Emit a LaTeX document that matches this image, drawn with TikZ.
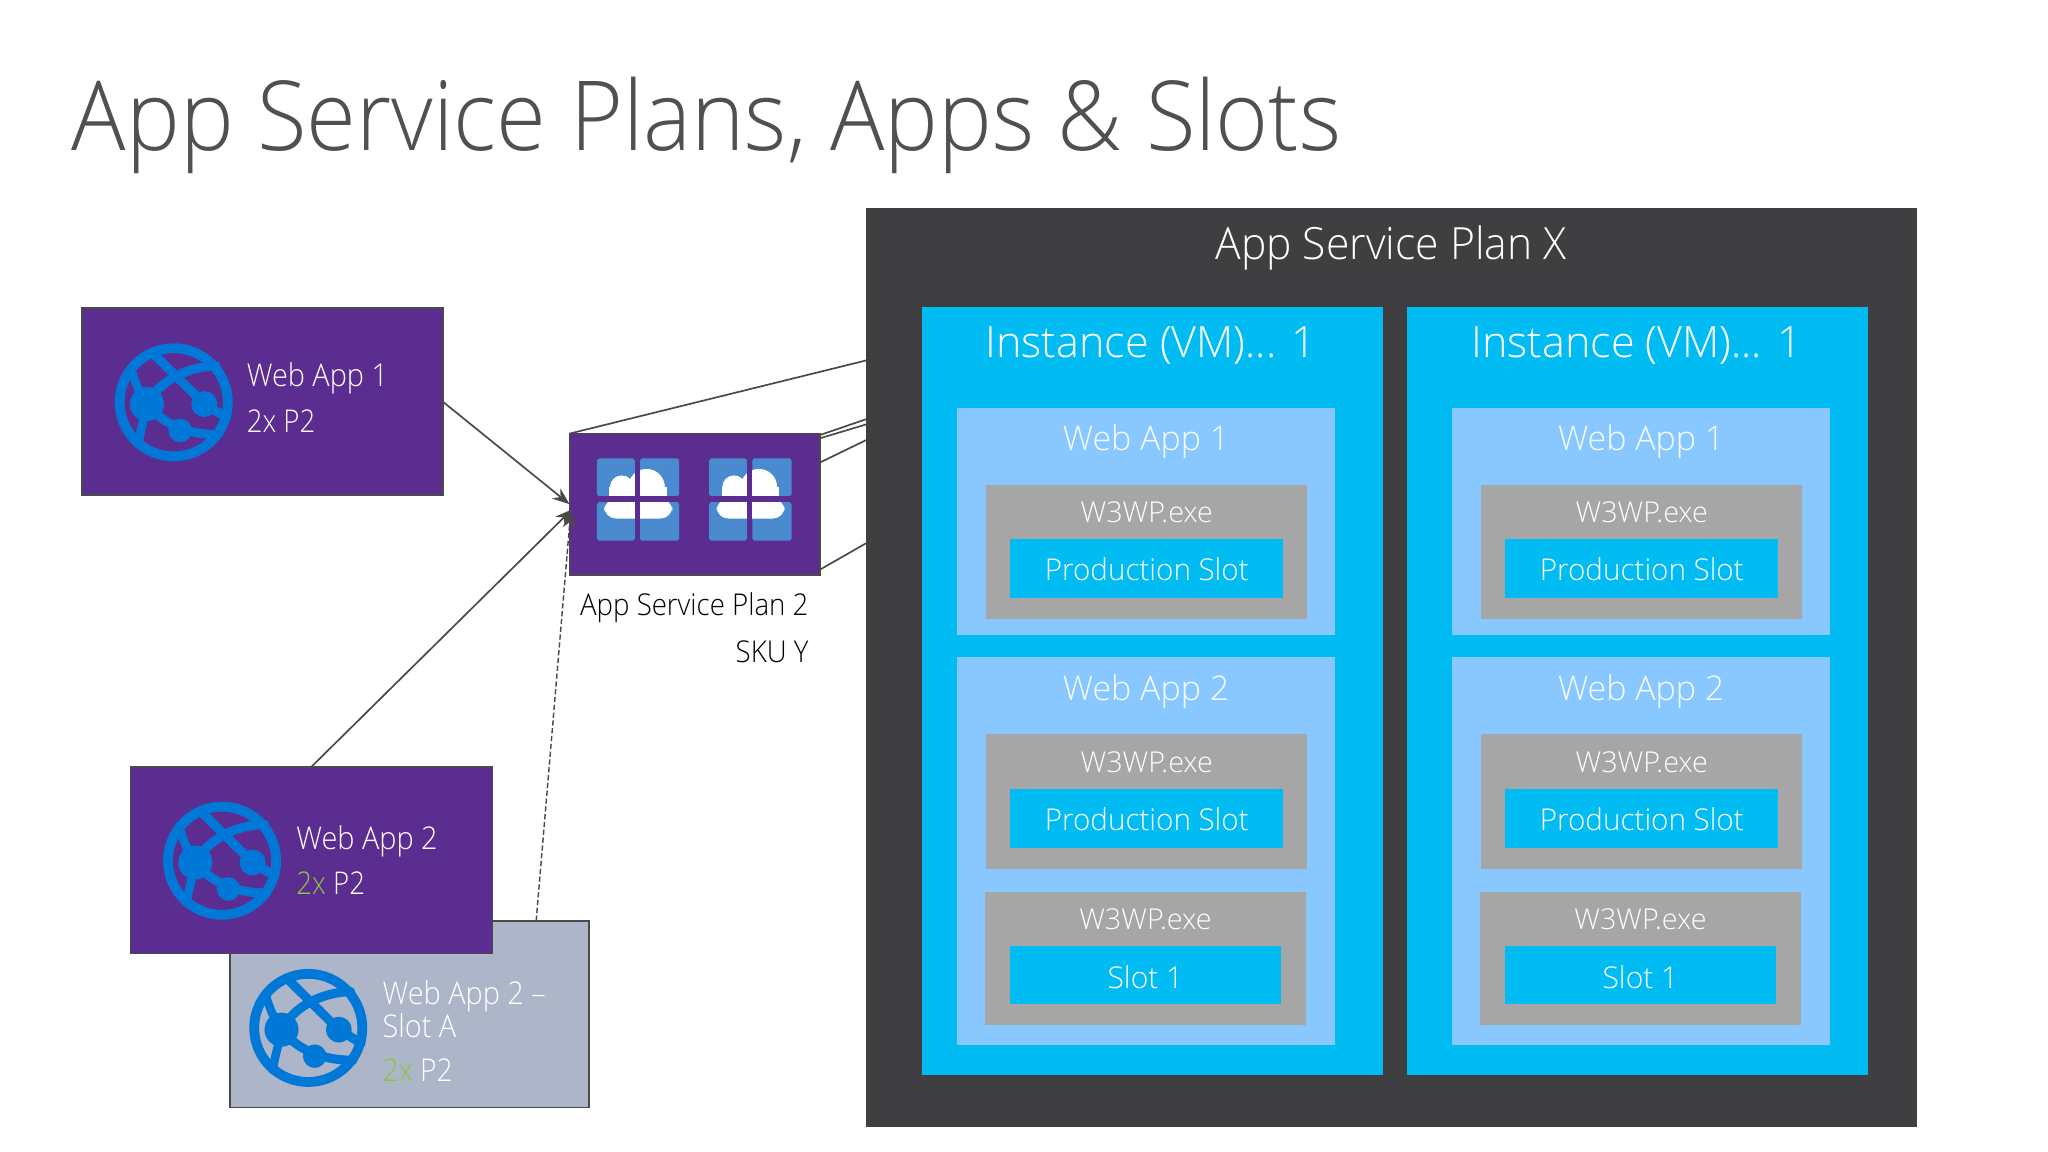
\documentclass[tikz,border=0pt]{standalone}
\usepackage{fontspec}
\setmainfont{Open Sans}[UprightFont={* Light}]
\usetikzlibrary{arrows.meta,calc}
\definecolor{purp}{HTML}{5C2D91}
\definecolor{edgegrey}{HTML}{4A4A4A}
\definecolor{darkbox}{HTML}{3F3E40}
\definecolor{inst}{HTML}{00BCF2}
\definecolor{appbox}{HTML}{89C8FF}
\definecolor{wp}{HTML}{A6A6A6}
\definecolor{slotgrey}{HTML}{ADB5C8}
\definecolor{globeblue}{HTML}{0078D7}
\definecolor{pane}{HTML}{4A8BD0}
\definecolor{gr}{HTML}{8CC63F}
\definecolor{titlec}{HTML}{505050}
\newcommand{\bx}[6]{\pgfmathsetmacro\bxw{(#5)-(#3)}\pgfmathsetmacro\bxh{(#6)-(#4)}\pgfmathsetmacro\bxcx{((#5)+(#3))/2}\pgfmathsetmacro\bxcy{((#6)+(#4))/2}\node[#1,minimum width=\bxw pt,minimum height=\bxh pt] (#2) at (\bxcx,\bxcy) {};}
\newcommand{\fs}[1]{\fontsize{#1}{#1}\selectfont}
\newcommand{\sx}[2]{\scalebox{#1}[1]{#2}}
\tikzset{
  x=1pt,y=-1pt,
  bxs/.style={draw=none,inner sep=0pt,outer sep=0pt,rectangle},
  card/.style={bxs,fill=purp,draw=edgegrey,line width=1.3pt},
  slotcard/.style={bxs,fill=slotgrey,draw=edgegrey,line width=1.3pt},
  dark/.style={bxs,fill=darkbox},
  instance/.style={bxs,fill=inst},
  app/.style={bxs,fill=appbox},
  wproc/.style={bxs,fill=wp},
  slot/.style={bxs,fill=inst},
  lab/.style={inner sep=0pt,outer sep=0pt,text=white,anchor=center},
  leftlab/.style={inner sep=0pt,outer sep=0pt,text=white,anchor=west,font=\fs{24}},
  conn/.style={draw=edgegrey,line width=1.3pt},
  tip/.style={-{Stealth[length=13pt,width=10pt]}},
  pics/globe/.style={code={
    \begin{scope}[scale=45,line cap=round]
      \draw[globeblue,line width=7.5pt] (0,0) circle (0.92);
      \draw[globeblue,line width=7pt] (-0.37,-0.85) -- (0.52,0.03) -- (0.9,0.26);
      \draw[globeblue,line width=7pt] (-0.455,0.03) .. controls (-0.25,-0.35) and (0.2,-0.6) .. (0.72,-0.62);
      \draw[globeblue,line width=7pt] (-0.455,0.03) .. controls (-0.2,0.35) and (0.2,0.55) .. (0.76,0.55);
      \draw[globeblue,line width=6.5pt] (-0.72,-0.55) .. controls (-0.65,-0.3) and (-0.55,-0.1) .. (-0.455,0.03) .. controls (-0.5,0.3) and (-0.58,0.5) .. (-0.6,0.72);
      \fill[globeblue] (-0.455,0.03) circle (0.29);
      \fill[globeblue] (0.52,0.03) circle (0.22);
      \fill[globeblue] (0.11,0.48) circle (0.2);
    \end{scope}
  }},
  pics/winicon/.style={code={
    \fill[pane,rounded corners=1.5pt] (0,0) rectangle (29,29);
    \fill[pane,rounded corners=1.5pt] (33,0) rectangle (63,29);
    \fill[pane,rounded corners=1.5pt] (0,33.5) rectangle (29,63);
    \fill[pane,rounded corners=1.5pt] (33,33.5) rectangle (63,63);
    \fill[white] (19,22) circle (9);
    \fill[white] (38,22) circle (14);
    \fill[white] (9.5,22) rectangle (53.5,33.5);
    \fill[white,rounded corners=9pt] (5.6,31) rectangle (57.7,46);
    \fill[purp] (0,29) rectangle (63,33.5);
    \fill[purp] (29,0) rectangle (33,63);
  }},
}
\begin{document}
\begin{tikzpicture}
\useasboundingbox (0,0) rectangle (1568,882);
\fill[white] (0,0) rectangle (1568,882);
\node[lab,text=titlec,font=\fs{74},anchor=base west] (title) at (55,115) {\sx{0.937}{App Service Plans, Apps \& Slots}};

% cards and connectors underneath
\bx{card}{asp}{436}{332}{628}{440}
\coordinate (pa) at (663,276);
\coordinate (pb) at (663,321);
\coordinate (pc) at (663,325);
\coordinate (pd) at (663,337);
\coordinate (pe) at (663,416);
\coordinate (sa) at ($(asp.north east)+(0,1)$);
\coordinate (sb) at ($(asp.north east)+(0,3.5)$);
\coordinate (sc) at ($(asp.north east)+(0,22)$);
\coordinate (sd) at ($(asp.south east)+(0,-4)$);
\draw[conn] (asp.north west) -- (pa);
\draw[conn] (sa) -- (pb);
\draw[conn] (sb) -- (pc);
\draw[conn] (sc) -- (pd);
\draw[conn] (sd) -- (pe);

\bx{dark}{plan}{663}{159}{1468}{863}
\node[lab,font=\fs{34}] (plant) at (1065,189.5) {\sx{0.96}{App Service Plan X}};

\foreach \c/\dx/\ix/\lx in {1/0/0/881,2/379/371/1253}{
  \bx{instance}{inst\c}{706+\ix}{235}{1059+\ix}{823}
  \node[lab,font=\fs{33}] (instt\c) at (\lx,264.5) {Instance (VM)... 1};
  \bx{app}{appa\c}{733+\dx}{312}{1022+\dx}{486}
  \bx{app}{appb\c}{733+\dx}{503}{1022+\dx}{800}
  \node[lab,font=\fs{26},text=white!92!appbox] (appat\c) at (877.5+\dx,338) {Web App 1};
  \node[lab,font=\fs{26},text=white!92!appbox] (appbt\c) at (877.5+\dx,529.5) {Web App 2};
  \bx{wproc}{wa\c}{755+\dx}{371}{1001+\dx}{474}
  \bx{wproc}{wb\c}{755+\dx}{562}{1001+\dx}{665}
  \bx{wproc}{wc\c}{754+\dx}{683}{1000+\dx}{785}
  \bx{slot}{sla\c}{773+\dx}{413}{982+\dx}{458}
  \bx{slot}{slb\c}{773+\dx}{604}{982+\dx}{649}
  \bx{slot}{slc\c}{773+\dx}{724}{981+\dx}{769}
  \node[lab,font=\fs{22}] (wat\c) at (878+\dx,392.5) {W3WP.exe};
  \node[lab,font=\fs{22}] (wbt\c) at (878+\dx,583.5) {W3WP.exe};
  \node[lab,font=\fs{22}] (wct\c) at (877+\dx,703.5) {W3WP.exe};
  \node[lab,font=\fs{23}] (slat\c) at (878+\dx,436) {\sx{0.985}{Production Slot}};
  \node[lab,font=\fs{23}] (slbt\c) at (878+\dx,627) {\sx{0.985}{Production Slot}};
  \node[lab,font=\fs{23}] (slct\c) at (877+\dx,748) {Slot 1};
}

% left side
\path (457,351) pic {winicon};
\path (543,351) pic {winicon};

\bx{slotcard}{slota}{176}{705}{451}{848}
\path (236,787) pic {globe};
\node[leftlab] (slotat1) at (293,763) {\sx{0.92}{Web App 2 –}};
\node[leftlab] (slotat2) at (293,785.5) {\sx{0.92}{Slot A}};
\node[leftlab] (slotat3) at (293,819.5) {\sx{0.9}{\textcolor{gr}{2x} P2}};

\bx{card}{wa}{63}{236}{339}{379}
\path (133,308) pic {globe};
\node[leftlab] (wat1) at (189,290) {\sx{0.92}{Web App 1}};
\node[leftlab] (wat2) at (189,322.5) {\sx{0.88}{2x P2}};

\bx{card}{wb}{100}{587}{377}{730}
\path (170,659) pic {globe};
\node[leftlab] (wbt1) at (227,644) {\sx{0.92}{Web App 2}};
\node[leftlab] (wbt2) at (227,676.5) {\sx{0.88}{\textcolor{gr}{2x} P2}};

\node[lab,text=black,font=\fs{23},anchor=east] (asptxt) at (619,465.5) {\sx{0.92}{App Service Plan 2}};
\node[lab,text=black,font=\fs{23},anchor=east] (skutxt) at (619,499) {\sx{0.92}{SKU Y}};

\coordinate (dashstart) at ($(slota.north)+(97,0)$);
\draw[conn,tip] (wa.east) -- (asp.west);
\draw[conn,tip] (wb.north) -- ($(asp.west)+(2,4)$);
\draw[conn,dash pattern=on 4pt off 2pt,line width=1.1pt,tip] (dashstart) -- ($(asp.west)+(1,5)$);
\end{tikzpicture}
\end{document}
